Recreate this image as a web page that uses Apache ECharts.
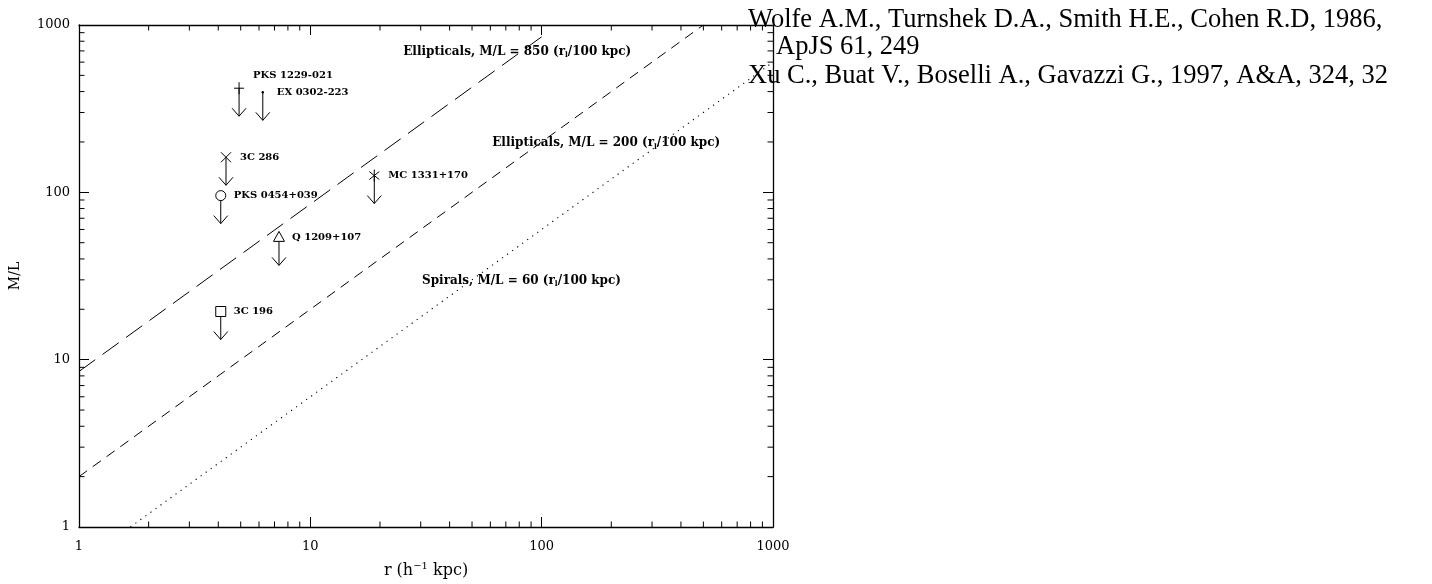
<!DOCTYPE html>
<html><head><meta charset="utf-8">
<script src="https://cdn.jsdelivr.net/npm/echarts@6/dist/echarts.min.js"></script>
<style>html,body{margin:0;padding:0;background:#fff}#c{width:1432px;height:584px}</style>
</head><body><div id="c"></div>
<script>
// ---- data ----
const objectNames = ['PKS 1229-021', 'EX 0302-223', '3C 286', 'PKS 0454+039', 'Q 1209+107', 'MC 1331+170', '3C 196'];
const radius = [4.92, 6.23, 4.32, 4.10, 7.32, 18.9, 4.10];          // r (h^-1 kpc)
const massToLight = [419, 396, 162, 95.6, 53.8, 126, 19.4];        // M/L upper limits
const markerKinds = ['plus', 'dot', 'cross', 'circle', 'triangle', 'asterisk', 'square'];

const ell850R = [1, 100];   const ell850ML = [8.5, 850];
const ell200R = [1, 500];   const ell200ML = [2, 1000];
const spiralR = [1.667, 1000]; const spiralML = [1, 600];

const xTickValues = [1, 10, 100, 1000];
const yTickValues = [1, 10, 100, 1000];
const minorTickValues = [2,3,4,5,6,7,8,9,20,30,40,50,60,70,80,90,200,300,400,500,600,700,800,900];

const references = [
  'Wolfe A.M., Turnshek D.A., Smith H.E., Cohen R.D, 1986,',
  'ApJS 61, 249',
  'Xu C., Buat V., Boselli A., Gavazzi G., 1997, A&A, 324, 32'
];

// ---- styles ----
const labelFont = 'DejaVu Serif';
const tickFont = 'DejaVu Serif';
const labelOffsets = [[14, -13], [14, 0], [14, 0], [13, 0], [13, 0], [14, 0], [13, 0]];

const chart = echarts.init(document.getElementById('c'));

function zip(a, b) { return a.map((v, i) => [v, b[i]]); }

function logAxis(extra) {
  return Object.assign({
    type: 'log', logBase: 10, min: 1, max: 1000,
    axisLine: { show: true, lineStyle: { color: '#000', width: 1.3 } },
    axisTick: { show: true, inside: true, length: 10, lineStyle: { color: '#000', width: 1 } },
    splitLine: { show: false },
    axisLabel: {
      show: true, color: '#000', fontFamily: tickFont, fontSize: 13,
      showMinLabel: true, showMaxLabel: true,
      formatter: v => String(Math.round(v))
    }
  }, extra);
}

function lineLabel(text, coord) {
  return {
    symbol: 'circle', symbolSize: 0,
    label: {
      show: true, position: 'right', distance: 0,
      formatter: text,
      color: '#000', fontFamily: labelFont, fontSize: 12, fontWeight: 'bold',
      rich: {
        n: { fontFamily: labelFont, fontSize: 12, fontWeight: 'bold', color: '#000', lineHeight: 15 },
        s: { fontFamily: labelFont, fontSize: 7.5, fontWeight: 'bold', color: '#000', lineHeight: 9, verticalAlign: 'bottom' }
      }
    },
    data: [{ coord: coord }]
  };
}

function markerShape(kind, x, y) {
  const ls = { stroke: '#000', lineWidth: 1, fill: null };
  const L = (x1, y1, x2, y2) => ({ type: 'line', shape: { x1, y1, x2, y2 }, style: ls });
  switch (kind) {
    case 'plus': return [L(x - 5, y, x + 5, y), L(x, y - 6, x, y + 6)];
    case 'dot': return [{ type: 'circle', shape: { cx: x, cy: y, r: 1.2 }, style: { fill: '#000' } }];
    case 'cross': return [L(x - 5, y - 5, x + 5, y + 5), L(x - 5, y + 5, x + 5, y - 5)];
    case 'circle': return [{ type: 'circle', shape: { cx: x, cy: y, r: 5 }, style: ls }];
    case 'triangle': return [{ type: 'polygon', shape: { points: [[x, y - 6], [x - 5.5, y + 4], [x + 5.5, y + 4]] }, style: ls }];
    case 'asterisk': return [L(x, y - 6, x, y + 6), L(x - 5, y - 4, x + 5, y + 4), L(x - 5, y + 4, x + 5, y - 4)];
    case 'square': return [{ type: 'rect', shape: { x: x - 5, y: y - 5, width: 10, height: 10 }, style: ls }];
  }
  return [];
}
const shaftStart = { plus: 0, dot: 0, cross: 0, circle: 5, triangle: 4, asterisk: 0, square: 5 };

const option = {
  animation: false,
  backgroundColor: '#fff',
  grid: { left: 79, right: 659, top: 25, bottom: 49, containLabel: false },
  xAxis: [
    logAxis({
      position: 'bottom',
      name: '{a|r (h}{s|−1}{a| kpc)}', nameLocation: 'middle', nameGap: 34,
      nameTextStyle: {
        rich: {
          a: { fontFamily: labelFont, fontSize: 16, color: '#000', lineHeight: 20 },
          s: { fontFamily: labelFont, fontSize: 10, color: '#000', lineHeight: 11, verticalAlign: 'top' }
        }
      },
      axisLabel: {
        show: true, color: '#000', fontFamily: tickFont, fontSize: 13, margin: 13,
        showMinLabel: true, showMaxLabel: true, formatter: v => String(Math.round(v))
      }
    }),
    logAxis({ position: 'top', axisLabel: { show: false } })
  ],
  yAxis: [
    logAxis({
      position: 'left',
      name: 'M/L', nameLocation: 'middle', nameGap: 57, nameRotate: 90,
      nameTextStyle: { fontFamily: labelFont, fontSize: 14, color: '#000' },
      axisLabel: {
        show: true, color: '#000', fontFamily: tickFont, fontSize: 13, margin: 9,
        showMinLabel: true, showMaxLabel: true, formatter: v => String(Math.round(v))
      }
    }),
    logAxis({ position: 'right', axisLabel: { show: false } })
  ],
  graphic: references.map((t, i) => ({
    type: 'text',
    x: i === 1 ? 776 : 748,
    y: [20, 47, 76][i],
    z: 100,
    style: {
      text: t, fill: '#000', fontFamily: 'Liberation Serif', fontSize: 26.5,
      align: 'left', verticalAlign: 'middle'
    }
  })),
  series: [
    {
      type: 'line', xAxisIndex: 0, yAxisIndex: 0, data: zip(ell850R, ell850ML),
      showSymbol: false, symbol: 'none', silent: true,
      lineStyle: { color: '#000', width: 1, type: [20, 9] },
      markPoint: lineLabel('{n|Ellipticals, M/L = 850 (r}{s|l}{n|/100 kpc)}', [25.2, 693])
    },
    {
      type: 'line', xAxisIndex: 0, yAxisIndex: 0, data: zip(ell200R, ell200ML),
      showSymbol: false, symbol: 'none', silent: true,
      lineStyle: { color: '#000', width: 1, type: [10, 7] },
      markPoint: lineLabel('{n|Ellipticals, M/L = 200 (r}{s|l}{n|/100 kpc)}', [61.1, 197])
    },
    {
      type: 'line', xAxisIndex: 0, yAxisIndex: 0, data: zip(spiralR, spiralML),
      showSymbol: false, symbol: 'none', silent: true,
      lineStyle: { color: '#000', width: 1.1, type: [1.2, 5] },
      markPoint: lineLabel('{n|Spirals, M/L = 60 (r}{s|l}{n|/100 kpc)}', [30.4, 29.6])
    },
    {
      // minor ticks on bottom and top axes
      type: 'custom', xAxisIndex: 0, yAxisIndex: 0, silent: true, clip: false,
      data: minorTickValues.map(v => [v, 1]),
      renderItem: (params, api) => {
        const b = api.coord([api.value(0), 1]);
        const t = api.coord([api.value(0), 1000]);
        const st = { stroke: '#000', lineWidth: 1 };
        return { type: 'group', children: [
          { type: 'line', shape: { x1: b[0], y1: b[1], x2: b[0], y2: b[1] - 5.5 }, style: st },
          { type: 'line', shape: { x1: t[0], y1: t[1], x2: t[0], y2: t[1] + 5.5 }, style: st }
        ] };
      }
    },
    {
      // minor ticks on left and right axes
      type: 'custom', xAxisIndex: 0, yAxisIndex: 0, silent: true, clip: false,
      data: minorTickValues.map(v => [1, v]),
      renderItem: (params, api) => {
        const l = api.coord([1, api.value(1)]);
        const r = api.coord([1000, api.value(1)]);
        const st = { stroke: '#000', lineWidth: 1 };
        return { type: 'group', children: [
          { type: 'line', shape: { x1: l[0], y1: l[1], x2: l[0] + 5.5, y2: l[1] }, style: st },
          { type: 'line', shape: { x1: r[0], y1: r[1], x2: r[0] - 5.5, y2: r[1] }, style: st }
        ] };
      }
    },
    {
      // upper-limit points with arrows and labels
      type: 'custom', xAxisIndex: 0, yAxisIndex: 0, silent: true, clip: false,
      data: radius.map((r, i) => [r, massToLight[i], i]),
      renderItem: (params, api) => {
        const i = api.value(2);
        const p = api.coord([api.value(0), api.value(1)]);
        const x = p[0], y = p[1];
        const kind = markerKinds[i];
        const len = 28;
        const st = { stroke: '#000', lineWidth: 1, fill: null };
        const children = markerShape(kind, x, y);
        children.push({ type: 'line', shape: { x1: x, y1: y + shaftStart[kind], x2: x, y2: y + len }, style: st });
        children.push({ type: 'polyline', shape: { points: [[x - 7, y + len - 8], [x, y + len], [x + 7, y + len - 8]] }, style: st });
        const off = labelOffsets[i];
        children.push({
          type: 'text', x: x + off[0], y: y + off[1],
          style: {
            text: objectNames[i], fill: '#000', fontFamily: labelFont, fontSize: 10, fontWeight: 'bold',
            align: 'left', verticalAlign: 'middle'
          }
        });
        return { type: 'group', children };
      }
    }
  ]
};
chart.setOption(option);
</script>
</body></html>
